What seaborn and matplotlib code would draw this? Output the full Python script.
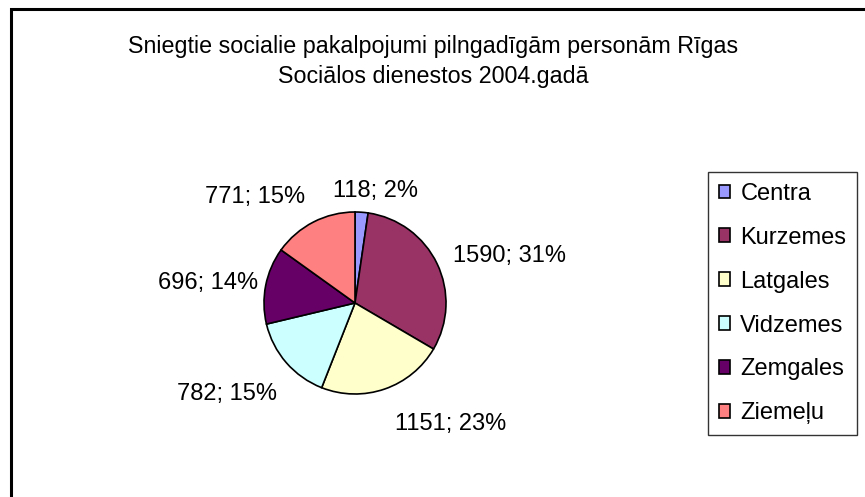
import matplotlib
matplotlib.use("Agg")
import matplotlib.pyplot as plt
import seaborn as sns
import numpy as np
from matplotlib.patches import Rectangle

# ---- data ----
regions = ["Centra", "Kurzemes", "Latgales", "Vidzemes", "Zemgales", "Ziemeļu"]
services = [118, 1590, 1151, 782, 696, 771]
percents = [2, 31, 23, 15, 14, 15]
title_lines = ["Sniegtie socialie pakalpojumi pilngadīgām personām Rīgas",
               "Sociālos dienestos 2004.gadā"]

# ---- style ----
colors = ["#9999FF", "#993366", "#FFFFCC", "#CCFFFF", "#660066", "#FF8080"]
label_dist = [1.29, 1.2, 1.38, 1.27, 1.12, 1.33]
label_nudge = [(12, -5), (0, 0), (-1, -2), (9, -15), (3, 0), (5, -2)]  # pixels

sns.set_theme(style="white")
plt.rcParams["font.family"] = ["Liberation Sans", "DejaVu Sans"]
plt.rcParams["text.color"] = "black"

W, H = 865, 497
fig = plt.figure(figsize=(W / 100, H / 100), dpi=100)
fig.patch.set_facecolor("white")

# outer chart frame (extends past right/bottom edge)
fig.patches.append(Rectangle((10.5 / W, -0.2), 1.2, 1 - 8.5 / H + 0.2,
                             transform=fig.transFigure, fill=False,
                             edgecolor="black", linewidth=2.2, zorder=0))

# pie axes: centre (355,303), radius 91 px
cx, cy, r = 355, 303, 91
ax = fig.add_axes([(cx - r) / W, (H - cy - r) / H, 2 * r / W, 2 * r / H])
wedges, _ = ax.pie(services, colors=colors, startangle=90, counterclock=False,
                   wedgeprops=dict(edgecolor="black", linewidth=1.2))
ax.set_xlim(-1, 1)
ax.set_ylim(-1, 1)
ax.set_aspect("equal")
ax.axis("off")

for w, v, p, d, nd in zip(wedges, services, percents, label_dist, label_nudge):
    ang = np.deg2rad((w.theta1 + w.theta2) / 2)
    x, y = d * np.cos(ang), d * np.sin(ang)
    if abs(x) < 0.2:
        ha = "center"
    else:
        ha = "left" if x > 0 else "right"
    ax.annotate(f"{v}; {p}%", xy=(x, y), xytext=nd,
                textcoords="offset pixels", ha=ha, va="center",
                fontsize=17, color="black", annotation_clip=False)

fig.text(433 / W, 1 - 61.5 / H, "\n".join(title_lines), ha="center",
         va="center", fontsize=16.75, linespacing=1.42, color="black")

leg = fig.legend(wedges, regions, loc="upper left",
                 bbox_to_anchor=(708 / W, 1 - 172 / H),
                 bbox_transform=fig.transFigure, borderaxespad=0,
                 fontsize=17, handlelength=0.5, handleheight=0.5,
                 handletextpad=0.42, labelspacing=0.93, borderpad=0.45,
                 fancybox=False, frameon=True, labelcolor="black")
leg.get_frame().set_edgecolor("black")
leg.get_frame().set_linewidth(1.0)

fig.savefig("out.png", dpi=100, facecolor="white")
